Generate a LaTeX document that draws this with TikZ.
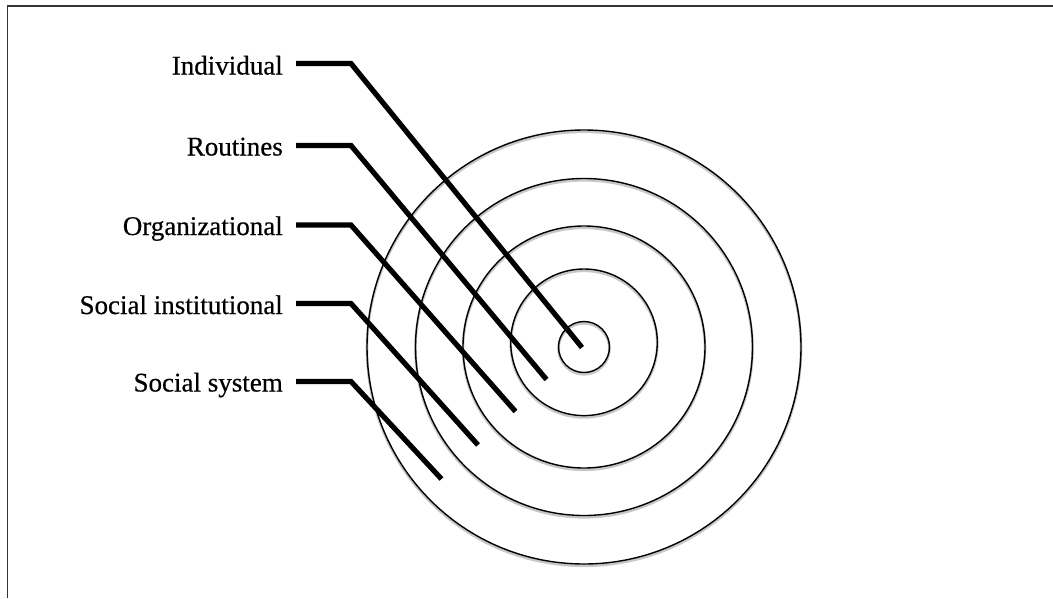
\documentclass[tikz,border=0pt]{standalone}
\usepackage{fontspec}
\setmainfont{Liberation Serif}
\newfontfamily\lblfont[FakeBold=0.5]{Liberation Serif}
\begin{document}
\begin{tikzpicture}[x=1pt,y=-1pt,
  lbl/.style={anchor=base east,inner sep=0pt,font=\lblfont\fontsize{27}{32}\selectfont},
  leader/.style={line width=5.2pt,line join=miter,black},
  ring/.style={line width=1.4pt,black},
  ringshadow/.style={line width=2.6pt,black!22},
  frame/.style={line width=1.1pt,black!80}]
\useasboundingbox (0,0) rectangle (1053,598);
% frame
\coordinate (f1) at (1053,6);
\coordinate (f2) at (7.5,6);
\coordinate (f3) at (7.5,598);
\draw[frame] (f1) -- (f2) -- (f3);
% circles
\coordinate (c) at (584,347);
\coordinate (c2) at (584,342.3);
\foreach \r in {217,168.5,121}{
  \draw[ringshadow] ([yshift=-1.8pt]c) circle[radius=\r];
}
\draw[ringshadow] ([yshift=-1.8pt]c2) circle[radius=73.3];
\draw[ringshadow] ([yshift=-1.8pt]c) circle[radius=25.5];
\foreach \r in {217,168.5,121}{
  \draw[ring] (c) circle[radius=\r];
}
\draw[ring] (c2) circle[radius=73.3];
\draw[ring] (c) circle[radius=25.5];
% labels
\node[lbl] (l1) at (283,74.5) {Individual};
\node[lbl] (l2) at (283,155.5) {Routines};
\node[lbl] (l3) at (283,235) {Organizational};
\node[lbl] (l4) at (283,314) {Social institutional};
\node[lbl] (l5) at (283,391.5) {Social system};
% leader points
\coordinate (s1) at (296,63.5);  \coordinate (k1) at (351,63.5);  \coordinate (e1) at (582,347.5);
\coordinate (s2) at (296,145.5); \coordinate (k2) at (351,145.5); \coordinate (e2) at (546.5,379.5);
\coordinate (s3) at (296,225);   \coordinate (k3) at (351,225);   \coordinate (e3) at (515.5,411.5);
\coordinate (s4) at (296,303.5); \coordinate (k4) at (351,303.5); \coordinate (e4) at (478,445);
\coordinate (s5) at (296,381.5); \coordinate (k5) at (351,381.5); \coordinate (e5) at (441.5,479);
\foreach \i in {1,...,5}{
  \draw[leader] (s\i) -- (k\i) -- (e\i);
}
\end{tikzpicture}
\end{document}
